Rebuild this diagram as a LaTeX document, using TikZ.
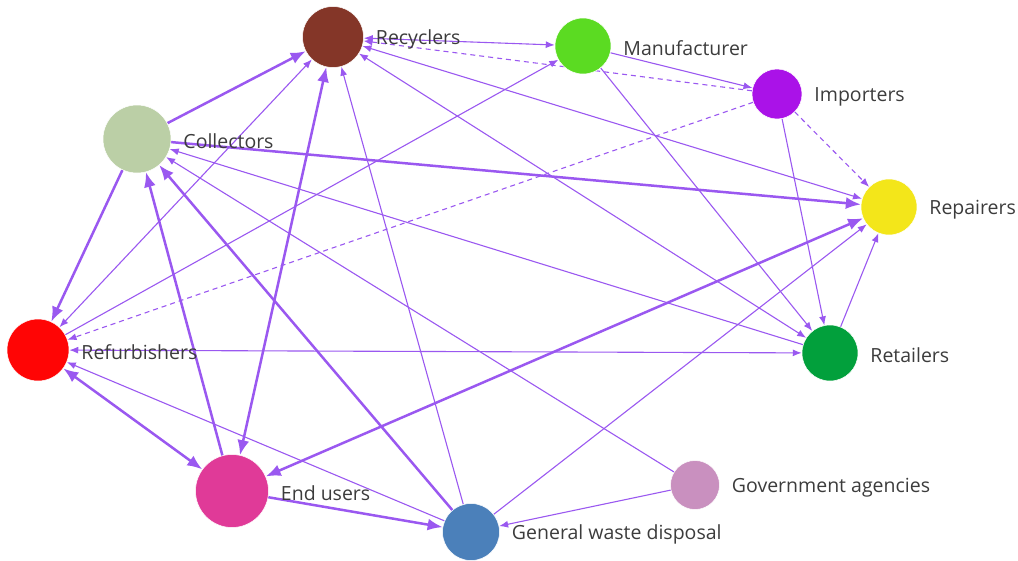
\documentclass[tikz,border=0pt]{standalone}
\usepackage{fontspec}
\setmainfont{Open Sans}
\usepackage{tikz}
\usetikzlibrary{arrows.meta,backgrounds}

\definecolor{edgecol}{HTML}{9A58F0}
\definecolor{labcol}{HTML}{3C3C3C}
\definecolor{recc}{HTML}{843628}
\definecolor{manc}{HTML}{5BDB22}
\definecolor{impc}{HTML}{AA12E8}
\definecolor{repc}{HTML}{F3E61A}
\definecolor{retc}{HTML}{02A03C}
\definecolor{govc}{HTML}{C990BF}
\definecolor{gwdc}{HTML}{4B80BA}
\definecolor{eusc}{HTML}{E03A98}
\definecolor{refc}{HTML}{FF0505}
\definecolor{colc}{HTML}{BBCFA6}

\begin{document}
\begin{tikzpicture}[
  x=1pt,y=-1pt,
  vnode/.style={circle,draw=white,line width=0.5pt,inner sep=0pt},
  lab/.style={font=\fontsize{19.5}{22}\selectfont,text=labcol,inner sep=1pt,yshift=-2.5pt},
  edge/.style={draw=edgecol,line width=1.1pt},
  bold/.style={draw=edgecol,line width=2.5pt},
  dashedge/.style={edge,dash pattern=on 5pt off 4pt},
  tip/.style={-{Latex[length=9pt,width=7pt]}},
  tips/.style={{Latex[length=9pt,width=7pt]}-{Latex[length=9pt,width=7pt]}},
  btip/.style={-{Latex[length=15pt,width=12pt]}},
  btips/.style={{Latex[length=15pt,width=12pt]}-{Latex[length=15pt,width=12pt]}},
  every label/.style={lab},
  label distance=11pt
]
\useasboundingbox (0,0) rectangle (1018,560);

% ---------------- actors ----------------
\node[vnode,fill=recc,minimum size=61pt,label=right:Recyclers] (rec) at (333,37) {};
\node[vnode,fill=manc,minimum size=56pt,label=right:Manufacturer] (man) at (583,46) {};
\node[vnode,fill=impc,minimum size=50pt,label=right:Importers] (imp) at (777,94) {};
\node[vnode,fill=repc,minimum size=56pt,label=right:Repairers] (rep) at (889,207) {};
\node[vnode,fill=retc,minimum size=56pt,label=right:Retailers] (ret) at (830,353) {};
\node[vnode,fill=govc,minimum size=49pt,label=right:Government agencies] (gov) at (695,485) {};
\node[vnode,fill=gwdc,minimum size=57pt,label=right:General waste disposal] (gwd) at (471,532) {};
\node[vnode,fill=eusc,minimum size=73pt,label=right:End users] (eus) at (232,491) {};
\node[vnode,fill=refc,minimum size=62pt,label=right:Refurbishers] (ref) at (38,350) {};
\node[vnode,fill=colc,minimum size=68pt,label=right:Collectors] (col) at (137,139) {};

% ---------------- flows ----------------
\begin{scope}[on background layer]
  % strong flows
  \draw[bold,btip] (col) -- (rec);
  \draw[bold,btip] (col) -- (rep);
  \draw[bold,btip] (col) -- (ref);
  \draw[bold,btip] (eus) -- (col);
  \draw[bold,btip] (gwd) -- (col);
  \draw[bold,btips] (eus) -- (rec);
  \draw[bold,btips] (eus) -- (ref);
  \draw[bold,btips] (eus) -- (rep);
  \draw[bold,btip] (eus) -- (gwd);

  % other flows
  \draw[edge,tips] (rec) -- (man);
  \draw[edge,tips] (rec) -- (ref);
  \draw[edge,tips] (rec) -- (rep);
  \draw[edge,tips] (rec) -- (ret);
  \draw[edge,tip] (gwd) -- (rec);
  \draw[edge,tip] (ref) -- (man);
  \draw[edge,tip] (man) -- (imp);
  \draw[edge,tip] (man) -- (ret);
  \draw[edge,tip] (imp) -- (ret);
  \draw[edge,tips] (ret) -- (ref);
  \draw[edge,tip] (ret) -- (col);
  \draw[edge,tip] (ret) -- (rep);
  \draw[edge,tip] (gov) -- (col);
  \draw[edge,tip] (gov) -- (gwd);
  \draw[edge,tip] (gwd) -- (ref);
  \draw[edge,tip] (gwd) -- (rep);

  % possible flows
  \draw[dashedge,tip] (imp) -- (rec);
  \draw[dashedge,tip] (imp) -- (ref);
  \draw[dashedge,tip] (imp) -- (rep);
\end{scope}

\end{tikzpicture}
\end{document}
